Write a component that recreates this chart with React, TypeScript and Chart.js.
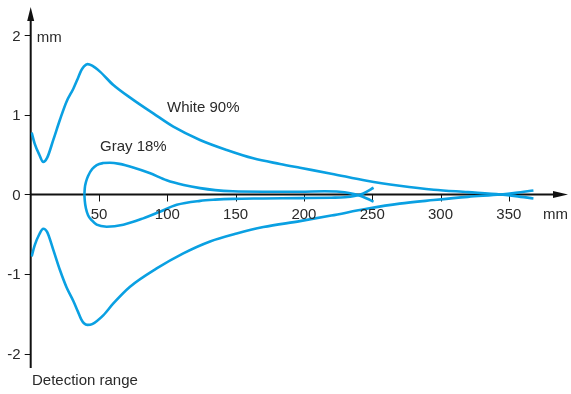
import React, { useEffect, useRef } from "react";
import { Chart, registerables } from "chart.js";

Chart.register(...registerables);

// ---- data (mm) ----
const whiteUpperX = [0.7, 2.9, 6.3, 9.2, 12, 16.6, 21.4, 26.3, 31.2, 34.5, 37, 39, 41.5, 45, 50.7, 60.5, 75.1, 89.7, 104.4, 123.9, 143.5, 162.9, 182.5, 197.1, 220, 246, 270, 295, 320, 344, 355, 368];
const whiteUpperY = [0.78, 0.64, 0.5, 0.41, 0.46, 0.69, 0.94, 1.17, 1.33, 1.46, 1.56, 1.61, 1.64, 1.62, 1.545, 1.377, 1.19, 1.02, 0.853, 0.686, 0.56, 0.455, 0.384, 0.336, 0.262, 0.172, 0.11, 0.06, 0.03, 0.0, -0.02, -0.05];
const whiteLowerX = [0.7, 2.9, 6.3, 9.2, 12, 16.6, 21.4, 26.3, 31.2, 34.5, 37, 39, 41.5, 45, 53.1, 60.5, 72.7, 92.2, 111.7, 131.3, 150.8, 170.3, 197.1, 220, 246, 270, 295, 320, 344, 355, 368];
const whiteLowerY = [-0.78, -0.64, -0.5, -0.43, -0.47, -0.7, -0.95, -1.17, -1.34, -1.47, -1.57, -1.62, -1.64, -1.63, -1.52, -1.37, -1.16, -0.93, -0.74, -0.59, -0.49, -0.41, -0.335, -0.265, -0.18, -0.115, -0.07, -0.03, 0.0, 0.02, 0.05];
const grayUpperX = [39.3, 39.6, 40.5, 42.2, 45, 48.3, 53, 58, 65, 75, 87, 99.5, 112, 124, 135, 148, 170, 197, 215, 226, 233, 240, 246, 251];
const grayUpperY = [0, 0.08, 0.16, 0.24, 0.32, 0.37, 0.395, 0.4, 0.385, 0.34, 0.27, 0.18, 0.12, 0.08, 0.055, 0.04, 0.035, 0.035, 0.04, 0.035, 0.02, -0.01, -0.05, -0.09];
const grayLowerX = [39.3, 39.6, 40.5, 42, 45, 48.3, 55.6, 67.8, 82.4, 94.6, 106.9, 124, 135, 148, 170, 197, 220, 230, 237, 243, 251];
const grayLowerY = [0, -0.08, -0.18, -0.26, -0.33, -0.38, -0.405, -0.38, -0.3, -0.216, -0.13, -0.08, -0.065, -0.055, -0.05, -0.045, -0.04, -0.035, -0.02, 0.01, 0.085];

const xTickValues = [50, 100, 150, 200, 250, 300, 350];
const yTickValues = [2, 1, 0, -1, -2];
const xMin = 0;
const xMax = 393.3;
const yMin = -2.182;
const yMax = 2.358;

const LINE_COLOR = "#0aa0e2";
const TEXT_COLOR = "#2a2a2a";
const FONT = "15px 'Liberation Sans', Arial, sans-serif";

const toPts = (xs: number[], ys: number[]) => xs.map((x, i) => ({ x, y: ys[i] }));

const axesPlugin = {
  id: "customAxes",
  beforeDatasetsDraw(chart: any) {
    const { ctx, scales, chartArea } = chart;
    const xs = scales.x;
    const ys = scales.y;
    const x0 = xs.getPixelForValue(0);
    const y0 = ys.getPixelForValue(0);
    ctx.save();
    ctx.strokeStyle = "#111";
    ctx.fillStyle = "#111";
    ctx.lineWidth = 2;
    ctx.beginPath();
    ctx.moveTo(x0, chartArea.bottom);
    ctx.lineTo(x0, chartArea.top + 10);
    ctx.stroke();
    ctx.beginPath();
    ctx.moveTo(x0, chartArea.top);
    ctx.lineTo(x0 - 3.5, chartArea.top + 14);
    ctx.lineTo(x0 + 3.5, chartArea.top + 14);
    ctx.closePath();
    ctx.fill();
    ctx.beginPath();
    ctx.moveTo(x0, y0);
    ctx.lineTo(chartArea.right - 10, y0);
    ctx.stroke();
    ctx.beginPath();
    ctx.moveTo(chartArea.right, y0);
    ctx.lineTo(chartArea.right - 15, y0 - 3.5);
    ctx.lineTo(chartArea.right - 15, y0 + 3.5);
    ctx.closePath();
    ctx.fill();
    ctx.lineWidth = 1;
    for (const v of yTickValues) {
      const py = Math.round(ys.getPixelForValue(v)) + 0.5;
      ctx.beginPath();
      ctx.moveTo(x0 - 6, py);
      ctx.lineTo(x0, py);
      ctx.stroke();
    }
    for (const v of xTickValues) {
      const px = Math.round(xs.getPixelForValue(v)) + 0.5;
      ctx.beginPath();
      ctx.moveTo(px, y0);
      ctx.lineTo(px, y0 + 7);
      ctx.stroke();
    }
    ctx.restore();
  },
  afterDraw(chart: any) {
    const { ctx, scales } = chart;
    const xs = scales.x;
    const ys = scales.y;
    const x0 = xs.getPixelForValue(0);
    const y0 = ys.getPixelForValue(0);
    ctx.save();
    ctx.font = FONT;
    ctx.fillStyle = TEXT_COLOR;
    ctx.textBaseline = "middle";
    ctx.textAlign = "right";
    for (const v of yTickValues) {
      ctx.fillText(String(v), x0 - 10, ys.getPixelForValue(v) + 1);
    }
    ctx.textAlign = "center";
    for (const v of xTickValues) {
      ctx.fillText(String(v), xs.getPixelForValue(v), y0 + 20);
    }
    ctx.textAlign = "left";
    ctx.fillText("mm", x0 + 6, ys.getPixelForValue(2) + 2);
    ctx.fillText("mm", 543, y0 + 20);
    ctx.fillText("White 90%", 167, 108);
    ctx.fillText("Gray 18%", 100, 147);
    ctx.fillText("Detection range", 32, 381);
    ctx.restore();
  },
};

export default function App() {
  const ref = useRef<HTMLCanvasElement | null>(null);
  useEffect(() => {
    if (!ref.current) return;
    const ds = (xs: number[], ys: number[]) => ({
      data: toPts(xs, ys),
      showLine: true,
      borderColor: LINE_COLOR,
      borderWidth: 2.6,
      pointRadius: 0,
      fill: false,
      cubicInterpolationMode: "monotone" as const,
    });
    const chart = new Chart(ref.current, {
      type: "scatter",
      data: {
        datasets: [
          ds(whiteUpperX, whiteUpperY),
          ds(whiteLowerX, whiteLowerY),
          ds(grayUpperX, grayUpperY),
          ds(grayLowerX, grayLowerY),
        ],
      },
      options: {
        animation: false,
        responsive: false,
        devicePixelRatio: 1,
        layout: { padding: { left: 30.7, right: 3, top: 7, bottom: 26 } },
        plugins: { legend: { display: false }, tooltip: { enabled: false } },
        scales: {
          x: { type: "linear", min: xMin, max: xMax, display: false },
          y: { type: "linear", min: yMin, max: yMax, display: false },
        },
      },
      plugins: [axesPlugin],
    });
    return () => chart.destroy();
  }, []);
  return (
    <div style={{ position: "absolute", left: 0, top: 0, width: 571, height: 394, background: "#fff" }}>
      <canvas ref={ref} width={571} height={394} style={{ display: "block" }} />
    </div>
  );
}
